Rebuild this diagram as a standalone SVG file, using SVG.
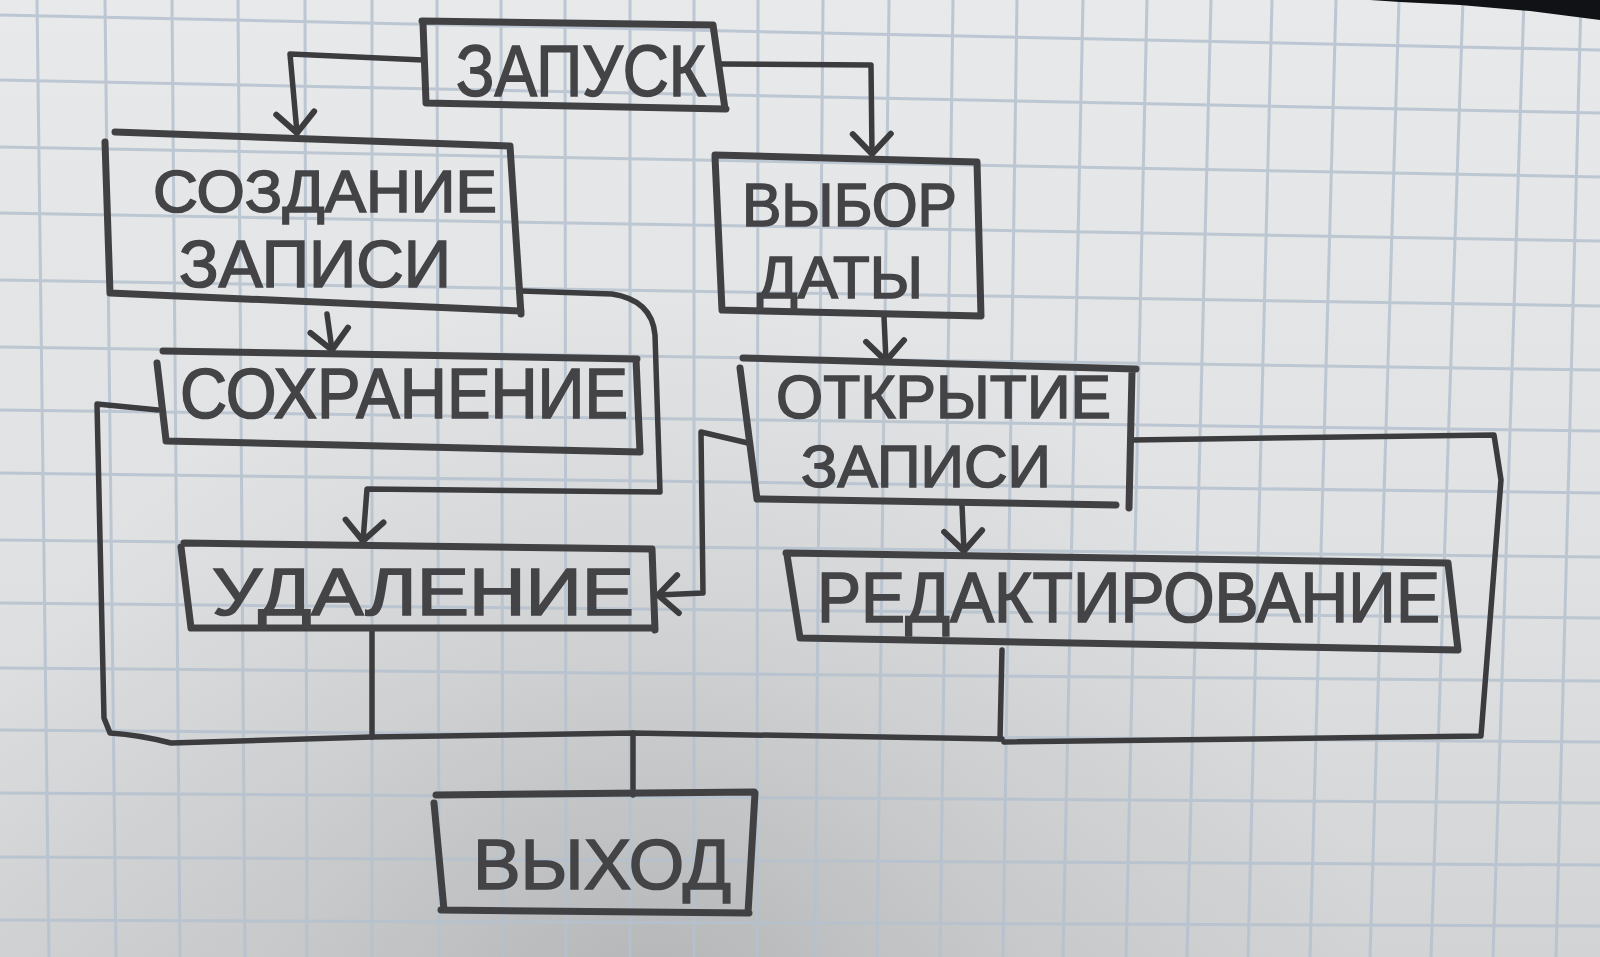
<svg xmlns="http://www.w3.org/2000/svg" width="1600" height="957" viewBox="0 0 1600 957">
<defs>
<linearGradient id="paperG" x1="0" y1="0" x2="0" y2="1">
<stop offset="0" stop-color="#e7e9eb"/>
<stop offset="0.6" stop-color="#dfe1e3"/>
<stop offset="1" stop-color="#d1d3d5"/>
</linearGradient>
<radialGradient id="shadeG" cx="650" cy="1010" r="720" gradientUnits="userSpaceOnUse">
<stop offset="0" stop-color="#8e9092" stop-opacity="0.45"/>
<stop offset="0.55" stop-color="#9a9c9e" stop-opacity="0.18"/>
<stop offset="1" stop-color="#9a9c9e" stop-opacity="0"/>
</radialGradient>
<marker id="vh" markerUnits="userSpaceOnUse" markerWidth="50" markerHeight="50" refX="0" refY="0" viewBox="-25 -25 50 50" orient="auto" overflow="visible">
<path d="M-20,-19 L0,0 L-20,19" fill="none" stroke="#3c3c3e" stroke-width="6" stroke-linecap="round" stroke-linejoin="round"/>
</marker>
<style>
.grid{stroke:#b6c2cf;stroke-width:3;fill:none;opacity:0.85}
.box{fill:none;stroke:#414144;stroke-width:7;stroke-linecap:round;stroke-linejoin:round}
.con{fill:none;stroke:#3c3c3e;stroke-width:5.5;stroke-linecap:round;stroke-linejoin:round}
.lbl{font-family:"Liberation Sans","DejaVu Sans",sans-serif;fill:#444447;stroke:#444447;stroke-width:1.6;font-weight:normal}
</style>
</defs>

<g id="paper">
<rect x="0" y="0" width="1600" height="957" fill="url(#paperG)"/>
<rect x="0" y="0" width="1600" height="957" fill="url(#shadeG)"/>
<g class="grid">
<line x1="37" y1="0" x2="49" y2="957"/>
<line x1="105" y1="0" x2="116" y2="957"/>
<line x1="172" y1="0" x2="180" y2="957"/>
<line x1="238" y1="0" x2="245" y2="957"/>
<line x1="305" y1="0" x2="307" y2="957"/>
<line x1="372" y1="0" x2="372" y2="957"/>
<line x1="437" y1="0" x2="439" y2="957"/>
<line x1="501" y1="0" x2="503" y2="957"/>
<line x1="565" y1="0" x2="566" y2="957"/>
<line x1="630" y1="0" x2="630" y2="957"/>
<line x1="694" y1="0" x2="694" y2="957"/>
<line x1="758" y1="0" x2="757" y2="957"/>
<line x1="823" y1="0" x2="815" y2="957"/>
<line x1="889" y1="0" x2="877" y2="957"/>
<line x1="953" y1="0" x2="940" y2="957"/>
<line x1="1017" y1="0" x2="1003" y2="957"/>
<line x1="1083" y1="0" x2="1063" y2="957"/>
<line x1="1147" y1="0" x2="1126" y2="957"/>
<line x1="1211" y1="0" x2="1187" y2="957"/>
<line x1="1272" y1="0" x2="1248" y2="957"/>
<line x1="1336" y1="0" x2="1310" y2="957"/>
<line x1="1399" y1="0" x2="1370" y2="957"/>
<line x1="1463" y1="0" x2="1431" y2="957"/>
<line x1="1524" y1="0" x2="1493" y2="957"/>
<line x1="1581" y1="0" x2="1556" y2="957"/>
<line x1="0" y1="15" x2="1600" y2="50"/>
<line x1="0" y1="80" x2="1600" y2="113"/>
<line x1="0" y1="147" x2="1600" y2="177"/>
<line x1="0" y1="213" x2="1600" y2="241"/>
<line x1="0" y1="280" x2="1600" y2="306"/>
<line x1="0" y1="347" x2="1600" y2="370"/>
<line x1="0" y1="410" x2="1600" y2="431"/>
<line x1="0" y1="473" x2="1600" y2="493"/>
<line x1="0" y1="540" x2="1600" y2="557"/>
<line x1="0" y1="603" x2="1600" y2="618"/>
<line x1="0" y1="668" x2="1600" y2="681"/>
<line x1="0" y1="730" x2="1600" y2="742"/>
<line x1="0" y1="793" x2="1600" y2="803"/>
<line x1="0" y1="857" x2="1600" y2="865"/>
<line x1="0" y1="920" x2="1600" y2="926"/>
</g>
<polygon points="1370,0 1600,0 1600,20 1530,11 1460,5 1400,2" fill="#111216"/>
</g>

<g id="connectors">
<path class="con" d="M423,60 L290,54 L297,133" marker-end="url(#vh)"/>
<path class="con" d="M720,64 L871,65 L872,154" marker-end="url(#vh)"/>
<path class="con" d="M327,314 L332,350" marker-end="url(#vh)"/>
<path class="con" d="M521,291 L612,294 Q652,300 655,335 L660,492 L367,489 L363,541" marker-end="url(#vh)"/>
<path class="con" d="M884,317 L886,361" marker-end="url(#vh)"/>
<path class="con" d="M748,443 L701,432 L703,593 L658,595" marker-end="url(#vh)"/>
<path class="con" d="M962,505 L964,551" marker-end="url(#vh)"/>
<path class="con" d="M1132,440 L1494,435 L1501,480 L1481,736 L1004,742"/>
<path class="con" d="M158,410 L97,404 L104,718 L110,733 Q140,735 171,743 L372,737 L633,733 L1002,739"/>
<path class="con" d="M372,628 L372,737"/>
<path class="con" d="M1002,650 L1000,739"/>
<path class="con" d="M633,733 L633,795"/>
</g>

<g id="node-zapusk">
<path class="box" d="M422,21 L713,25 M423,24 L426,102 M426,103 L726,109 M713,25 L725,109"/>
<text class="lbl" x="456" y="96" font-size="72" textLength="250" lengthAdjust="spacingAndGlyphs">ЗАПУСК</text>
</g>

<g id="node-sozdanie">
<path class="box" d="M115,132 L510,146 M105,142 L110,293 M110,293 L521,311 M510,146 L521,314"/>
<text class="lbl" x="153" y="212" font-size="60" textLength="344" lengthAdjust="spacingAndGlyphs">СОЗДАНИЕ</text>
<text class="lbl" x="179" y="287" font-size="66" textLength="272" lengthAdjust="spacingAndGlyphs">ЗАПИСИ</text>
</g>

<g id="node-sohranenie">
<path class="box" d="M163,351 L637,359 M157,363 L166,440 M166,441 L640,452 M636,359 L640,452"/>
<text class="lbl" x="180" y="418" font-size="70" textLength="448" lengthAdjust="spacingAndGlyphs">СОХРАНЕНИЕ</text>
</g>

<g id="node-vybor">
<path class="box" d="M715,155 L977,162 M715,157 L722,310 M722,310 L981,316 M977,162 L981,316"/>
<text class="lbl" x="742" y="226" font-size="62" textLength="215" lengthAdjust="spacingAndGlyphs">ВЫБОР</text>
<text class="lbl" x="757" y="298" font-size="60" textLength="166" lengthAdjust="spacingAndGlyphs">ДАТЫ</text>
</g>

<g id="node-otkrytie">
<path class="box" d="M743,358 L1136,369 M740,368 L757,499 M757,499 L1116,505 M1132,372 L1129,508"/>
<text class="lbl" x="776" y="418" font-size="62" textLength="335" lengthAdjust="spacingAndGlyphs">ОТКРЫТИЕ</text>
<text class="lbl" x="801" y="487" font-size="60" textLength="250" lengthAdjust="spacingAndGlyphs">ЗАПИСИ</text>
</g>

<g id="node-udalenie">
<path class="box" d="M184,543 L652,549 M181,547 L191,628 M191,628 L655,628 M652,549 L655,630"/>
<text class="lbl" x="212" y="615" font-size="66" textLength="422" lengthAdjust="spacingAndGlyphs">УДАЛЕНИЕ</text>
</g>

<g id="node-redaktirovanie">
<path class="box" d="M786,553 L1448,563 M787,555 L800,638 M800,638 L1458,650 M1448,563 L1458,650"/>
<text class="lbl" x="817" y="622" font-size="70" textLength="623" lengthAdjust="spacingAndGlyphs">РЕДАКТИРОВАНИЕ</text>
</g>

<g id="node-vyhod">
<path class="box" d="M436,795 L754,792 M434,803 L444,910 M441,910 L749,913 M755,793 L748,913"/>
<text class="lbl" x="473" y="889" font-size="70" textLength="258" lengthAdjust="spacingAndGlyphs">ВЫХОД</text>
</g>
</svg>
